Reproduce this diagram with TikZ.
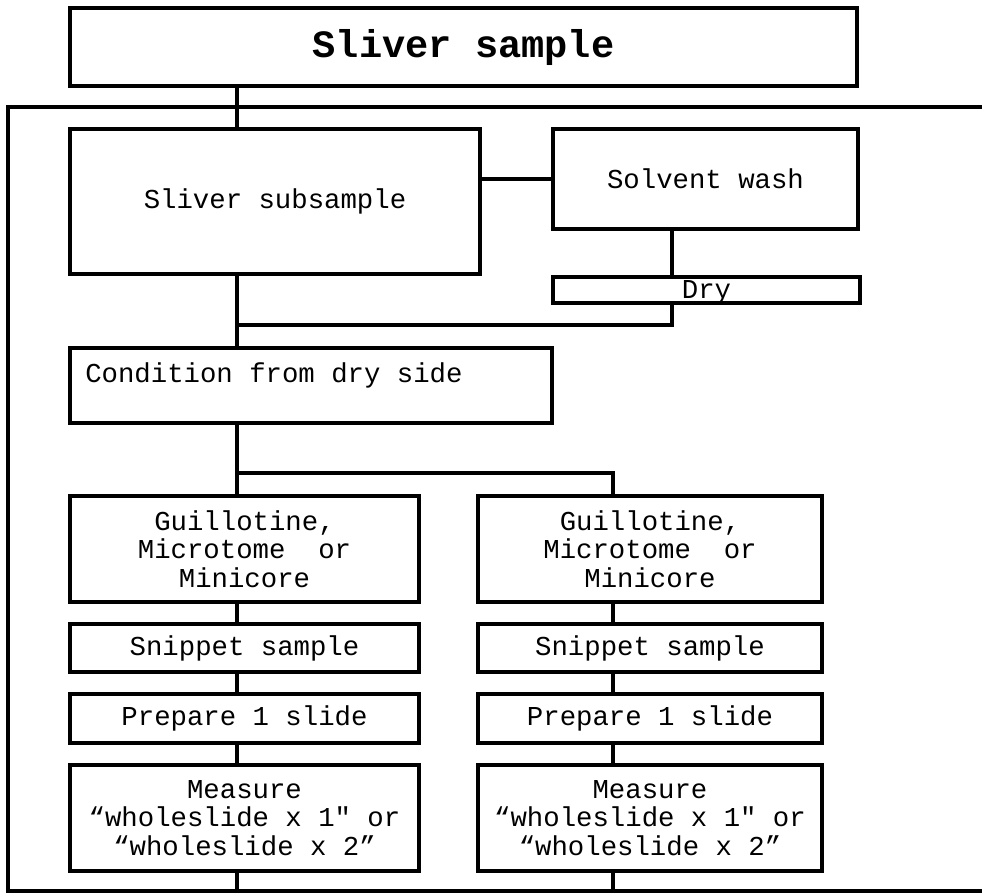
\documentclass[tikz,border=0pt]{standalone}
\usepackage{fontspec}
\setmonofont{Liberation Mono}
\begin{document}
\begin{tikzpicture}
% Sliver sample flow chart, laid out in pixel units
\def\pxsz{0.75pt}
\providecommand{\sliverLineWidth}{2.6pt}
\providecommand{\sliverLinkWidth}{2.4pt}
\providecommand{\sliverFont}{\ttfamily\fontsize{20.5}{21.5}\selectfont}
\providecommand{\sliverTitleFont}{\ttfamily\bfseries\fontsize{29}{30}\selectfont}
\begin{scope}[x=\pxsz, y=-\pxsz, line cap=butt,
  box/.style={draw, line width=\sliverLineWidth, inner sep=0pt, outer sep=0pt, align=center, font=\sliverFont},
  link/.style={draw, line width=\sliverLinkWidth}]
  \useasboundingbox[fill=white] (0,0) rectangle (982,893);
  % Trunk positions
  \coordinate (trunkL) at (237,0);
  \coordinate (trunkR) at (613,0);
  \coordinate (dryx) at (672,0);
  \coordinate (dryjoin) at (237,325);
  \coordinate (split) at (237,473);
  % Outer frame, open on the right
  \coordinate (frameNE) at (982,107);
  \coordinate (frameNW) at (8,107);
  \coordinate (frameSW) at (8,891);
  \coordinate (frameSE) at (982,891);
  \draw[line width=\sliverLineWidth] (frameNE) -- (frameNW) -- (frameSW) -- (frameSE);
  % Upper boxes
  \node[box, minimum width=787*\pxsz, minimum height=78*\pxsz, font=\sliverTitleFont] (sliver) at (463.5,47) {Sliver sample};
  \node[box, minimum width=410*\pxsz, minimum height=145*\pxsz] (subsample) at (275,201.5) {Sliver subsample};
  \node[box, minimum width=305*\pxsz, minimum height=100*\pxsz] (solvent) at (705.5,179) {Solvent wash};
  \node[box, minimum width=307*\pxsz, minimum height=26*\pxsz, text height=15pt, text depth=2.2pt] (dry) at (706.5,290) {Dry};
  \node[box, minimum width=482*\pxsz, minimum height=75*\pxsz,
    label={[anchor=west, font=\sliverFont, inner sep=0pt, xshift=11.25pt, yshift=-20.25pt]north west:Condition from dry side}] (condition) at (311,385.5) {};
  % Left column
  \node[box, minimum width=349*\pxsz, minimum height=106*\pxsz] (guilL) at (244.5,549) {Guillotine,\\Microtome~~or\\Minicore};
  \node[box, minimum width=349*\pxsz, minimum height=48*\pxsz] (snipL) at (244.5,648) {Snippet sample};
  \node[box, minimum width=349*\pxsz, minimum height=49*\pxsz] (prepL) at (244.5,718.5) {Prepare 1 slide};
  \node[box, minimum width=349*\pxsz, minimum height=106*\pxsz] (measL) at (244.5,818) {Measure\\“wholeslide x 1" or\\“wholeslide x 2”};
  % Right column
  \node[box, minimum width=344*\pxsz, minimum height=106*\pxsz] (guilR) at (650,549) {Guillotine,\\Microtome~~or\\Minicore};
  \node[box, minimum width=344*\pxsz, minimum height=48*\pxsz] (snipR) at (650,648) {Snippet sample};
  \node[box, minimum width=344*\pxsz, minimum height=49*\pxsz] (prepR) at (650,718.5) {Prepare 1 slide};
  \node[box, minimum width=344*\pxsz, minimum height=106*\pxsz] (measR) at (650,818) {Measure\\“wholeslide x 1" or\\“wholeslide x 2”};
  % Connectors
  \draw[link] (sliver.south -| trunkL) -- (subsample.north -| trunkL);
  \draw[link] (solvent.west -| subsample.east) -- (solvent.west);
  \draw[link] (solvent.south -| dryx) -- (dry.north -| dryx);
  \draw[link] (dry.south -| dryx) |- (dryjoin);
  \draw[link] (subsample.south -| trunkL) -- (condition.north -| trunkL);
  \draw[link] (condition.south -| trunkL) -- (guilL.north -| trunkL);
  \draw[link] (split) -| (guilR.north -| trunkR);
  \foreach \side/\trunk in {L/trunkL, R/trunkR} {
    \draw[link] (guil\side.south -| \trunk) -- (snip\side.north -| \trunk);
    \draw[link] (snip\side.south -| \trunk) -- (prep\side.north -| \trunk);
    \draw[link] (prep\side.south -| \trunk) -- (meas\side.north -| \trunk);
    \draw[link] (meas\side.south -| \trunk) -- (frameSW -| \trunk);
  }
\end{scope}
\end{tikzpicture}
\end{document}
